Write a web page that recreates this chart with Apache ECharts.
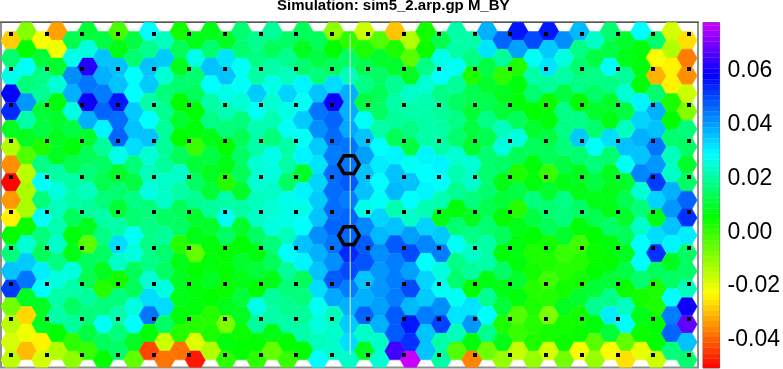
<!DOCTYPE html>
<html><head><meta charset="utf-8">
<style>html,body{margin:0;padding:0;background:#fff}#c{width:783px;height:369px}</style>
<script src="https://cdn.jsdelivr.net/npm/echarts@6/dist/echarts.min.js"></script>
</head><body><div id="c"></div>
<script>
// Hex cell values in thousandths, one list per zig-zag row, 45 columns
const r00=[-28,-9,-22,-33,13,11,12,-2,12,29,23,4,8,8,9,16,19,20,15,14,14,-10,1,-17,-3,-29,-14,4,13,21,21,38,47,56,50,56,42,37,24,16,10,29,16,-18,-26];
const r01=[16,6,11,-21,27,26,36,8,16,19,35,14,27,16,32,16,18,14,19,9,12,6,15,3,10,3,-4,5,27,21,18,32,20,40,28,35,26,18,12,12,8,7,-22,-14,-37];
const r02=[27,28,18,10,42,62,38,36,29,36,25,9,16,36,36,28,21,21,23,16,17,14,23,13,15,10,9,18,29,28,3,12,1,3,21,32,21,16,18,28,20,7,-31,-24,-35];
const r03=[58,17,19,25,38,45,44,36,29,35,17,16,14,29,27,28,35,27,34,30,36,33,38,18,14,19,24,25,18,20,13,10,9,7,16,20,12,18,15,18,25,7,16,-24,-17];
const r04=[54,41,11,7,26,60,47,56,35,21,19,6,6,21,22,25,28,25,27,28,45,60,38,12,15,21,21,22,20,15,11,13,11,7,6,5,18,6,10,10,12,30,38,3,-9];
const r05=[9,21,12,10,12,38,30,46,36,29,20,10,7,18,17,17,22,22,28,35,42,47,39,28,21,20,18,21,21,18,12,18,23,14,10,7,18,18,16,8,23,34,36,6,17];
const r06=[-14,9,3,9,7,10,20,47,33,36,20,6,0,8,6,14,21,17,21,28,35,46,45,36,29,14,12,21,21,16,10,13,26,26,14,12,17,35,28,33,36,38,45,16,15];
const r07=[-35,-3,18,9,13,14,15,27,17,25,20,14,11,12,8,15,25,27,21,30,32,44,45,40,31,30,28,30,30,25,25,16,15,14,7,14,12,16,17,16,28,36,41,23,10];
const r08=[-50,-15,29,21,21,17,13,10,12,23,24,24,15,9,2,14,25,26,15,10,34,46,48,36,29,36,36,29,29,22,24,16,8,3,7,0,8,9,12,9,10,43,52,24,15];
const r09=[-34,-13,17,26,21,23,17,16,18,26,24,21,19,11,21,10,23,24,27,30,35,46,44,36,28,37,29,30,22,19,17,16,11,12,17,10,18,8,8,8,13,25,34,38,47];
const r10=[-24,-13,29,23,14,20,21,11,16,17,15,14,10,20,28,21,24,25,27,27,36,46,47,27,34,22,24,22,8,7,9,13,6,2,12,16,17,15,13,8,10,17,8,41,53];
const r11=[6,5,17,22,7,9,18,21,28,18,20,15,8,10,15,10,15,26,23,29,42,47,47,43,37,36,40,34,35,16,18,16,14,8,6,14,10,7,6,15,14,24,33,36,31];
const r12=[17,25,14,24,8,-4,15,33,26,18,16,2,-5,7,6,6,7,17,29,36,38,45,54,48,42,48,50,43,44,28,24,21,7,7,3,4,0,-1,5,7,9,29,53,30,15];
const r13=[36,35,31,18,26,14,9,24,14,18,15,8,6,7,6,10,11,14,20,30,36,42,50,49,41,44,40,29,26,18,20,21,15,7,4,3,2,2,6,6,12,29,14,9,15];
const r14=[52,45,29,26,21,13,2,4,14,25,26,9,7,9,5,8,6,8,17,14,33,48,44,36,41,44,50,34,28,16,6,8,8,10,2,-1,4,4,11,11,5,16,3,15,23];
const r15=[-7,9,9,21,15,20,17,17,26,33,33,8,7,6,8,11,27,20,19,17,28,39,38,38,40,44,37,35,42,28,32,19,11,7,3,2,9,10,19,18,23,4,3,29,60];
const r16=[-15,-27,9,21,20,17,28,22,29,45,15,7,2,2,-8,9,20,21,21,20,26,23,35,47,38,48,56,44,51,32,41,29,3,-3,2,-8,4,4,7,31,29,8,6,44,68];
const r17=[-18,-21,-24,6,1,12,14,17,9,7,-17,2,-19,3,7,5,6,8,6,21,23,24,33,24,24,48,53,36,21,23,7,19,8,0,3,4,5,5,-4,11,-5,5,6,47,36];
const r18=[-15,-30,-18,-14,-10,0,6,15,-5,-43,-38,-38,-48,-14,1,6,1,-5,0,6,29,24,24,9,25,65,78,36,21,-3,-36,-6,-11,-16,-11,-18,-7,-22,-11,-22,-26,-20,-17,17,16];
const hexRows=[r00,r01,r02,r03,r04,r05,r06,r07,r08,r09,r10,r11,r12,r13,r14,r15,r16,r17,r18];

// Detector grid marks, in hex-grid units
const dotColumns=[0,2.32,4.64,6.97,9.29,11.61,13.93,16.26,18.58,20.9,23.22,25.55,27.87,30.19,32.51,34.83,37.16,39.48,41.8,44.12];
const dotLines=[0.25,4.27,8.29,12.32,16.34,20.36,24.38,28.41,32.43,36.45];
const outlinedCells=[[22,15],[22,23]];
const meridian=[[22.08,0.25],[22.08,36.45]];

// Colour bar
const colorbarLevels=[-50,-48,-46,-44,-42,-40,-38,-36,-34,-32,-30,-28,-26,-24,-22,-20,-18,-16,-14,-12,-10,-8,-6,-4,-2,0,2,4,6,8,10,12,14,16,18,20,22,24,26,28,30,32,34,36,38,40,42,44,46,48,50,52,54,56,58,60,62,64,66,68,70,72,74,76,78];
const colorbarTicks=[-0.04,-0.02,0,0.02,0.04,0.06];
const colorStops=[[-50.5,255,0,0],[-22.7,255,255,0],[6,0,255,0],[29,0,255,255],[58.6,0,0,255],[78,200,0,255]];

function colorOf(v){
  if(v<=colorStops[0][0])return 'rgb(255,0,0)';
  for(let i=1;i<colorStops.length;i++){
    const a=colorStops[i-1],b=colorStops[i];
    if(v<=b[0]){
      const t=(v-a[0])/(b[0]-a[0]);
      return 'rgb('+[1,2,3].map(j=>Math.round(a[j]+(b[j]-a[j])*t)).join(',')+')';
    }
  }
  return 'rgb(200,0,255)';
}

const cells=[];
hexRows.forEach((row,m)=>row.forEach((v,k)=>cells.push([k,k%2?2*m:2*m+1,v])));
const dots=[];
dotLines.forEach(y=>dotColumns.forEach(x=>dots.push([x,y])));

function hexPoints(api,x,y){
  return [[x-2/3,y],[x-1/3,y-1],[x+1/3,y-1],[x+2/3,y],[x+1/3,y+1],[x-1/3,y+1]].map(p=>api.coord(p));
}

const chart=echarts.init(document.getElementById('c'),null,{renderer:'canvas'});
chart.setOption({
  animation:false,
  backgroundColor:'#fff',
  title:{text:'Simulation: sim5_2.arp.gp M_BY',left:277,top:-2,padding:0,
    textStyle:{fontFamily:'Liberation Sans',fontWeight:'bold',fontSize:15,color:'#000'}},
  grid:[
    {left:1,top:22,width:697,height:345.5,show:true,borderColor:'#8f8f8f',borderWidth:2,backgroundColor:'#fff'},
    {left:703,top:22.5,width:17.5,height:345.5,show:true,borderColor:'#666',borderWidth:1}
  ],
  xAxis:[
    {gridIndex:0,type:'value',min:-0.651,max:44.72,position:'top',splitLine:{show:false},
      axisLine:{show:true,onZero:false,lineStyle:{color:'#555',width:1}},axisTick:{show:false},axisLabel:{show:false}},
    {gridIndex:1,type:'value',min:0,max:1,show:false}
  ],
  yAxis:[
    {gridIndex:0,type:'value',inverse:true,min:-1.07,max:37.86,show:false},
    {gridIndex:1,type:'value',position:'right',min:-0.0505,max:0.0781,
      splitLine:{show:false},axisLine:{show:false},
      axisTick:{show:true,length:5,customValues:colorbarTicks,lineStyle:{color:'#777',width:1}},
      axisLabel:{show:true,customValues:colorbarTicks,margin:8,fontFamily:'Liberation Sans',fontSize:23,color:'#000',
        formatter:v=>Number(v).toFixed(2)}}
  ],
  series:[
    {type:'custom',xAxisIndex:0,yAxisIndex:0,clip:true,data:cells,encode:{x:0,y:1},silent:true,
      renderItem:(p,api)=>{
        const fill=colorOf(api.value(2));
        return {type:'polygon',shape:{points:hexPoints(api,api.value(0),api.value(1))},
          style:{fill:fill,stroke:fill,lineWidth:0.5}};
      }},
    {type:'line',xAxisIndex:0,yAxisIndex:0,data:meridian,symbol:'none',silent:true,z:3,
      lineStyle:{color:'#ececec',width:1}},
    {type:'custom',xAxisIndex:0,yAxisIndex:0,data:dots,encode:{x:0,y:1},silent:true,z:4,
      renderItem:(p,api)=>{
        const c=api.coord([api.value(0),api.value(1)]);
        return {type:'rect',shape:{x:Math.round(c[0])-2,y:Math.round(c[1])-2,width:4,height:4},style:{fill:'#000'}};
      }},
    {type:'custom',xAxisIndex:0,yAxisIndex:0,clip:true,data:outlinedCells,encode:{x:0,y:1},silent:true,z:5,
      renderItem:(p,api)=>({type:'polygon',shape:{points:hexPoints(api,api.value(0),api.value(1))},
        style:{fill:'none',stroke:'#000',lineWidth:3.5}})},
    {type:'custom',xAxisIndex:1,yAxisIndex:1,clip:true,data:colorbarLevels.map(v=>[v/1000]),encode:{y:0},silent:true,
      renderItem:(p,api)=>{
        const v=api.value(0);
        const a=api.coord([0,v-0.001]),b=api.coord([1,v+0.001]);
        const fill=colorOf(v*1000);
        return {type:'rect',shape:{x:a[0],y:b[1],width:b[0]-a[0],height:a[1]-b[1]},style:{fill:fill,stroke:fill,lineWidth:0.3}};
      }}
  ]
});
</script></body></html>
